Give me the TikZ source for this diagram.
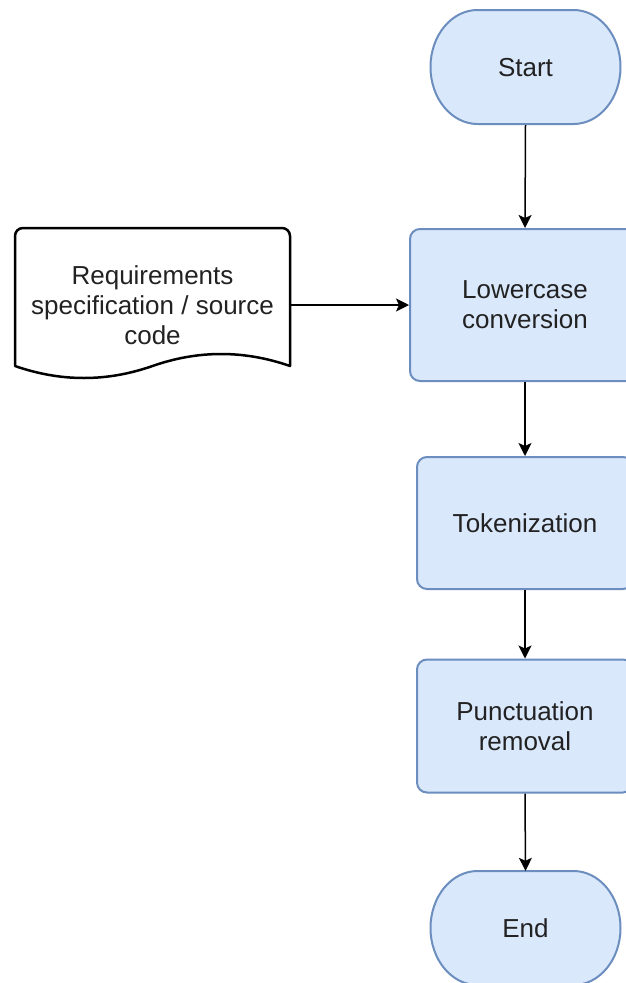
\documentclass[tikz,border=0pt]{standalone}
\usepackage{fontspec}
\setmainfont{Liberation Sans}
\usetikzlibrary{arrows.meta}
\definecolor{boxfill}{HTML}{DAE8FC}
\definecolor{boxline}{HTML}{6C8EBF}
\definecolor{txt}{HTML}{222222}
\tikzset{
  lbl/.style={text=txt,font=\fontsize{26}{30}\selectfont,align=center,inner sep=0pt},
  proc/.style={lbl,draw=boxline,fill=boxfill,line width=2pt,rounded corners=10pt},
  termtext/.style={lbl,minimum width=189pt,minimum height=114pt},
  termline/.style={draw=boxline,fill=boxfill,line width=2pt},
  docline/.style={draw=black,fill=white,line width=2.5pt,line join=round},
  flow/.style={draw=black,line width=1.5pt,-{Stealth[length=13pt,width=13pt,inset=3pt]}}
}
\begin{document}
\begin{tikzpicture}[x=1pt,y=1pt]
\useasboundingbox (0,0) rectangle (626,-983);
\clip (0,0) rectangle (626,-983);
% start terminator
\draw[termline] (477.5,-10) -- (573.5,-10) arc[start angle=90,end angle=-90,x radius=47,y radius=57]
  -- (477.5,-124) arc[start angle=270,end angle=90,x radius=47,y radius=57] -- cycle;
\node[termtext] (start) at (525.5,-68) {Start};
% end terminator
\draw[termline] (477.5,-871) -- (573.5,-871) arc[start angle=90,end angle=-90,x radius=47,y radius=57]
  -- (477.5,-985) arc[start angle=270,end angle=90,x radius=47,y radius=57] -- cycle;
\node[termtext] (end) at (525.5,-928) {End};
% process boxes
\node[proc,minimum width=230pt,minimum height=152pt] (lower) at (525,-305) {Lowercase\\conversion};
\node[proc,minimum width=216pt,minimum height=132pt] (token) at (525,-523) {Tokenization};
\node[proc,minimum width=216pt,minimum height=133pt] (punct) at (525,-726) {Punctuation\\removal};
% document
\draw[docline] (15,-366) -- (15,-236) arc[start angle=180,end angle=90,radius=8] -- (282,-228)
  arc[start angle=90,end angle=0,radius=8] -- (290,-366)
  .. controls (244,-350) and (198.2,-350) .. (152.5,-366)
  .. controls (106.8,-382) and (61,-382) .. (15,-366) -- cycle;
\node[lbl,minimum width=275pt] (req) at (152.5,-305) {Requirements\\specification / source\\code};
% connectors
\draw[flow] (start.south) -- (lower.north);
\draw[flow] (req.east) -- (lower.west);
\draw[flow] (lower.south) -- (token.north);
\draw[flow] (token.south) -- (punct.north);
\draw[flow] (punct.south) -- (end.north);
\end{tikzpicture}
\end{document}
